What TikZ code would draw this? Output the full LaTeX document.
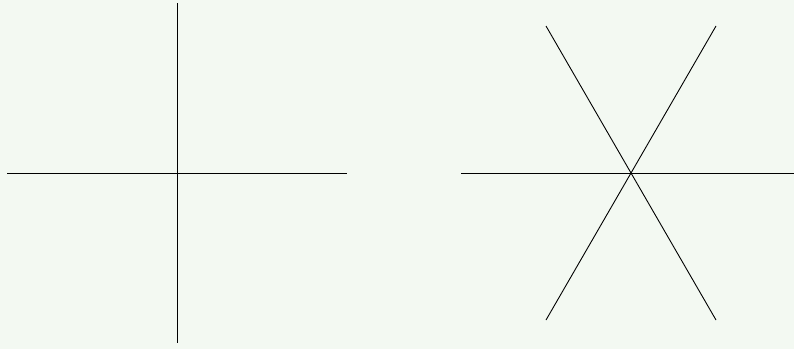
\documentclass[tikz,border=0pt]{standalone}
\definecolor{bgc}{HTML}{F3F9F2}
\begin{document}
\begin{tikzpicture}[x=1pt,y=-1pt,line width=0.9pt,
  ray/.style={draw=black,line width=0.9pt}]
\fill[bgc] (0,0) rectangle (794,349);
\useasboundingbox (0,0) rectangle (794,349);
% left cross
\coordinate (c1) at (177,173);
\draw[ray] (7,173) -- (347,173);
\draw[ray] (177,3) -- (177,343);
% right star
\coordinate (c2) at (631,173);
\begin{scope}
\clip (0,0) rectangle (794,349);
\draw[ray] (461,173) -- (801,173);
\draw[ray] (546,26) -- (716,320);
\draw[ray] (716,26) -- (546,320);
\end{scope}
\end{tikzpicture}
\end{document}
